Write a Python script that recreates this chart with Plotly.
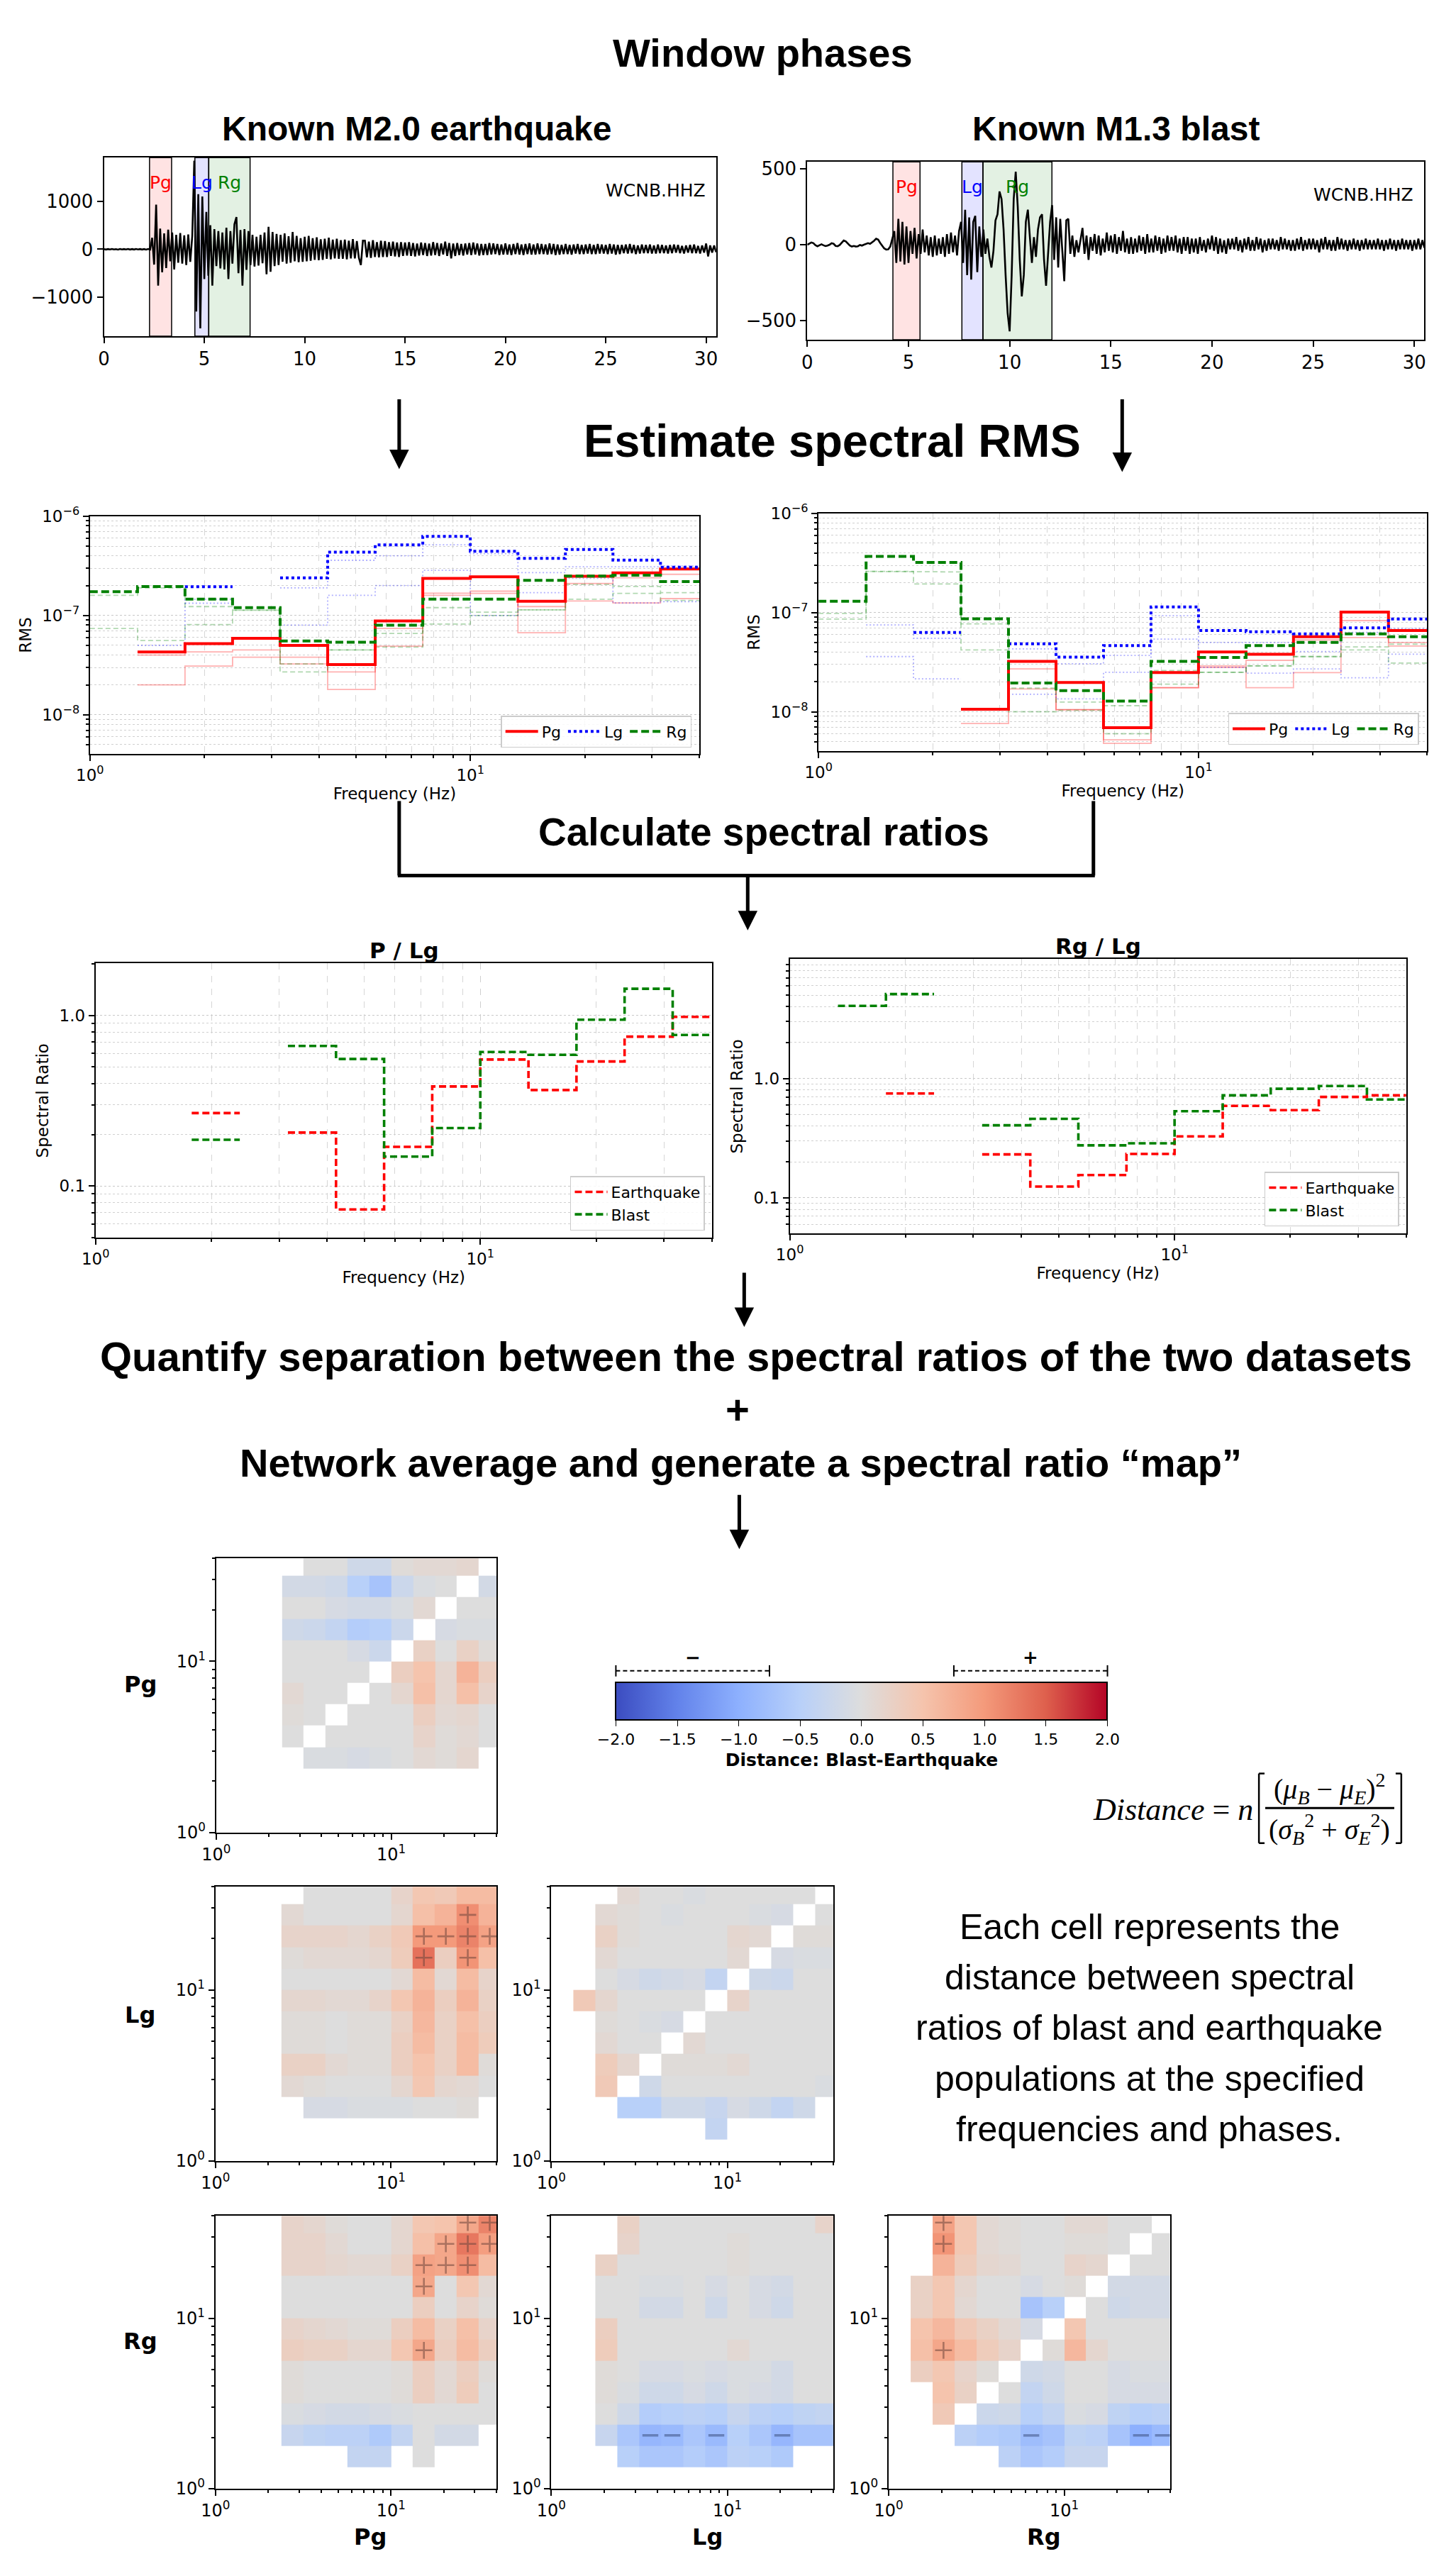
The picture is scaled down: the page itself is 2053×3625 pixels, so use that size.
import numpy as np
import plotly.graph_objects as go

W, H = 2053, 3625
N = None

# ------------------------------------------------------------------ data
sample_dt = 0.1  # s
eq_counts = [
    4, -6, 5, -3, 6, -5, 3, -7, 6, -4,
    5, -4, 7, -6, 4, -5, 6, -3, 5, -6,
    4, -7, 6, -5, 240, -320, 930, -760, 430, -480,
    330, -390, 410, -250, 350, -420, 300, -280, 340, -300,
    290, -330, 310, -260, 280, 1850, -1300, 1150, -1650, 1100,
    -620, 780, -550, 500, -760, 420, -350, 380, -400, 350,
    -420, 450, -620, 380, -300, 520, 670, -500, 400, -760,
    420, -430, 380, -330, 300, -360, 260, -340, 300, -290,
    350, -520, 470, -470, 360, -350, 320, -330, 300, -260,
    330, -300, 270, -280, 360, -250, 280, -270, 230, -260,
    260, -250, 280, -240, 230, -220, 250, -230, 210, -220,
    220, -200, 240, -210, 200, -190, 220, -200, 190, -200,
    200, -210, 180, -190, 210, -190, 170, -180, -330, 180,
    180, -170, 160, -180, 190, -160, 150, -170, 180, -160,
    170, -160, 150, -140, 160, -150, 140, -160, 150, -140,
    140, -130, 150, -140, 130, -150, 120, -130, 140, -120,
    130, -140, 120, -130, 150, -120, 130, -140, 120, -110,
    160, -140, 130, -190, 120, -140, 130, -120, 110, -130,
    120, -110, 130, -120, 140, -110, 120, -130, 110, -120,
    110, -120, 130, -110, 120, -100, 110, -120, 100, -110,
    120, -110, 100, -120, 110, -100, 130, -110, 100, -120,
    110, -100, 120, -110, 100, -110, 120, -100, 110, -100,
    100, -110, 120, -100, 110, -120, 100, -110, 90, -100,
    110, -100, 90, -110, 100, -90, 110, -100, 90, -100,
    100, -90, 110, -100, 90, -100, 110, -90, 100, -90,
    90, -100, 110, -90, 100, -110, 90, -100, 90, -80,
    100, -90, 110, -80, 90, -100, 80, -90, 100, -80,
    90, -80, 100, -90, 80, -90, 100, -80, 90, -80,
    80, -90, 90, -80, 100, -70, 90, -80, 70, -90,
    80, -70, 90, -80, 100, -80, 70, -90, 80, -70,
    120, -150, 80, -70, 80, -60,
]
blast_counts = [
    0, 8, 15, 10, -3, -10, -5, 3, -4, -9,
    -6, 0, 10, 6, -8, -10, -2, 12, 28, 22,
    8, -5, -12, -8, -12, -10, -2, -6, 0, 4,
    10, 6, 14, 26, 40, 34, 12, -8, -24, -32,
    -30, -12, 40, 90, -120, 170, -110, 150, -130, 120,
    -120, 90, -60, 110, -90, 70, -60, 100, -50, 60,
    -70, 50, -80, 60, -70, 40, -60, 50, -80, 70,
    -60, 80, -50, 60, -70, 90, 150, -120, 230, -200,
    180, -230, 150, 190, -180, 120, -80, 100, -60, 40,
    -80, -150, -40, 160, 200, 350, 300, 100, -200, -450,
    -570, -200, 300, 480, 250, -100, -340, -200, 150, 230,
    50, -120, 50, -80, 100, 180, 200, -100, -270, -50,
    150, 260, -100, 180, -150, 170, -50, -240, 160, 170,
    -60, 60, -80, 30, -50, 40, 110, -60, 60, -100,
    50, -40, 70, -60, 60, -70, 40, -50, 80, -40,
    60, -50, 70, -60, 50, -40, 90, -50, 40, -60,
    50, -60, 40, -50, 60, -40, 50, -60, 70, -50,
    40, -50, 60, -40, 50, -60, 40, -50, 60, -40,
    50, -40, 60, -50, 40, -60, 50, -40, 50, -60,
    40, -50, 40, -60, 50, -40, 30, -50, 40, -30,
    60, -40, 50, -60, 40, -50, 30, -60, 40, -30,
    40, -30, 50, -40, 30, -50, 40, -30, 50, -40,
    30, -40, 50, -30, 40, -50, 30, -40, 40, -30,
    40, -30, 30, -40, 50, -30, 40, -30, 30, -40,
    30, -40, 40, -30, 50, -40, 30, -30, 40, -30,
    40, -30, 30, -50, 40, -30, 50, -30, 30, -40,
    30, -40, 50, -30, 40, -30, 30, -40, 30, -30,
    40, -30, 30, -40, 30, -30, 40, -30, 30, -30,
    30, -30, 40, -30, 30, -40, 30, -30, 40, -30,
    30, -40, 30, -30, 40, -30, 30, -30, 30, -40,
    30, -30, 40, -30, 30, -20,
]
phase_names = ["Pg", "Lg", "Rg"]
eq_win_start = [2.27, 4.53, 5.22]
eq_win_end = [3.37, 5.22, 7.28]
bl_win_start = [4.23, 7.64, 8.68]
bl_win_end = [5.57, 8.68, 12.09]
station_name = "WCNB.HHZ"

# frequency bin edges (Hz)
freq_edges = [1.0, 1.334, 1.778, 2.371, 3.162, 4.217, 5.623, 7.499,
              10.0, 13.34, 17.78, 23.71, 31.62, 42.17]

# network RMS (earthquake)
rms_eq_pg = [N, 4.3e-8, 5.2e-8, 5.9e-8, 5.0e-8, 3.2e-8, 8.8e-8, 2.37e-7, 2.45e-7, 1.39e-7, 2.49e-7, 2.69e-7, 2.94e-7]
rms_eq_lg = [N, N, 1.95e-7, N, 2.4e-7, 4.35e-7, 5.15e-7, 6.27e-7, 4.43e-7, 3.76e-7, 4.63e-7, 3.62e-7, 3.07e-7]
rms_eq_rg = [1.74e-7, 1.96e-7, 1.46e-7, 1.2e-7, 5.53e-8, 5.38e-8, 8.0e-8, 1.46e-7, 1.46e-7, 2.26e-7, 2.5e-7, 2.55e-7, 2.2e-7]
# individual-station RMS (earthquake)
eq_pg_st1 = [N, 4.0e-8, 4.3e-8, 4.5e-8, 3.8e-8, 2.7e-8, 7.4e-8, 1.68e-7, 1.76e-7, 1.23e-7, 2.1e-7, 2.4e-7, 2.6e-7]
eq_pg_st2 = [N, 2.0e-8, 3.1e-8, 3.8e-8, 3.25e-8, 1.8e-8, 4.9e-8, 1.6e-7, 1.67e-7, 6.7e-8, 1.4e-7, 1.34e-7, 1.48e-7]
eq_lg_st1 = [N, 5.0e-8, 1.46e-7, N, 1.9e-7, 3.6e-7, 4.0e-7, 5.15e-7, 4.2e-7, 2.7e-7, 3.1e-7, 3.1e-7, 3.15e-7]
eq_lg_st2 = [N, N, 1.33e-7, N, 8.0e-8, 1.6e-7, 2.0e-7, 2.85e-7, 1.0e-7, 1.7e-7, 2.37e-7, 1.34e-7, 1.38e-7]
eq_rg_st1 = [1.6e-7, 1.9e-7, 1.23e-7, 1.13e-7, 3.25e-8, 4.5e-8, 6.6e-8, 1.2e-7, 1.08e-7, 1.14e-7, 2.06e-7, 1.96e-7, 1.7e-7]
eq_rg_st2 = [7.4e-8, 5.6e-8, 8.1e-8, 1.13e-7, 2.7e-8, 4.5e-8, 4.8e-8, 8.2e-8, 1.0e-7, 1.14e-7, 1.46e-7, 1.67e-7, 1.42e-7]
# network RMS (blast)
rms_bl_pg = [N, N, N, 1.06e-8, 3.22e-8, 1.97e-8, 6.9e-9, 2.48e-8, 4.0e-8, 3.79e-8, 5.7e-8, 1.01e-7, 6.6e-8]
rms_bl_lg = [N, N, 6.3e-8, N, 4.84e-8, 3.55e-8, 4.64e-8, 1.14e-7, 6.6e-8, 6.4e-8, 6.1e-8, 7.0e-8, 8.6e-8]
rms_bl_rg = [1.3e-7, 3.68e-7, 3.21e-7, 8.65e-8, 1.95e-8, 1.63e-8, 1.28e-8, 3.22e-8, 3.53e-8, 4.64e-8, 5.0e-8, 6.1e-8, 5.7e-8]
bl_pg_st1 = [N, N, N, 7.6e-9, 2.7e-8, 1.05e-8, 5.2e-9, 1.75e-8, 2.9e-8, 3.3e-8, 5.3e-8, 8.3e-8, 4.6e-8]
bl_pg_st2 = [N, N, N, N, 1.7e-8, 1.05e-8, 4.8e-9, 1.75e-8, 2.8e-8, 1.75e-8, 2.48e-8, 5.6e-8, 5.0e-8]
bl_lg_st1 = [N, 7.5e-8, 5.5e-8, N, 4.3e-8, 3.05e-8, 3.7e-8, 9.3e-8, 5.0e-8, 5.0e-8, 4.05e-8, 6.3e-8, 6.9e-8]
bl_lg_st2 = [N, 3.6e-8, 2.15e-8, N, 1.5e-8, 1.35e-8, 2.5e-8, 5.4e-8, 2.8e-8, 2.45e-8, 2.7e-8, 2.2e-8, 3.8e-8]
bl_rg_st1 = [9.8e-8, 2.6e-7, 2.57e-7, 7.7e-8, 1.73e-8, 1.25e-8, 1.15e-8, 2.6e-8, 2.5e-8, 2.9e-8, 3.6e-8, 4.5e-8, 4.8e-8]
bl_rg_st2 = [8.6e-8, 2.6e-7, 1.94e-7, 4.2e-8, 1.0e-8, 1.03e-8, 6.0e-9, 1.9e-8, 2.5e-8, 2.9e-8, 3.6e-8, 4.2e-8, 3.1e-8]

# spectral ratios
pg_lg_eq = [N, N, 0.268, N, 0.206, 0.073, 0.170, 0.384, 0.552, 0.366, 0.538, 0.752, 0.981]
pg_lg_bl = [N, N, 0.187, N, 0.663, 0.556, 0.149, 0.219, 0.611, 0.588, 0.945, 1.435, 0.769]
rg_lg_eq = [N, N, 0.748, N, 0.231, 0.124, 0.155, 0.233, 0.327, 0.589, 0.543, 0.700, 0.722]
rg_lg_bl = [N, 4.06, 5.1, N, 0.405, 0.459, 0.275, 0.286, 0.531, 0.722, 0.82, 0.865, 0.666]

# distance maps, rows listed from the highest frequency (top) downwards
pg_pg_top_down = [
    [N, N, N, N, 0.0, 0.0, -0.2, -0.2, 0.05, 0.1, 0.1, 0.15, N],
    [N, N, N, -0.15, -0.15, -0.2, -0.5, -0.7, -0.25, -0.05, 0.0, N, -0.15],
    [N, N, N, 0.0, 0.0, -0.1, -0.15, -0.15, -0.05, 0.1, N, 0.0, 0.0],
    [N, N, N, -0.2, -0.25, -0.35, -0.55, -0.5, -0.25, N, -0.1, -0.05, -0.05],
    [N, N, N, 0.0, 0.0, 0.0, -0.1, -0.25, N, 0.25, 0.0, 0.25, 0.05],
    [N, N, N, 0.0, 0.0, 0.0, 0.0, N, 0.3, 0.5, 0.15, 0.7, 0.3],
    [N, N, N, 0.1, 0.0, 0.0, N, 0.0, 0.15, 0.55, 0.15, 0.55, 0.2],
    [N, N, N, 0.05, 0.0, N, 0.0, 0.0, 0.0, 0.3, 0.1, 0.15, 0.0],
    [N, N, N, 0.0, N, 0.0, 0.0, 0.0, 0.0, 0.2, 0.05, 0.1, 0.0],
    [N, N, N, N, -0.05, -0.05, -0.1, -0.05, 0.0, 0.1, 0.05, 0.15, N],
    [N] * 13, [N] * 13, [N] * 13,
]
lg_pg_top_down = [
    [N, N, N, N, 0.0, 0.0, 0.0, 0.0, 0.2, 0.45, 0.4, 0.6, 0.6],
    [N, N, N, 0.1, 0.0, 0.0, 0.0, 0.0, 0.15, 0.55, 0.7, 1.1, 0.7],
    [N, N, N, 0.2, 0.2, 0.2, 0.15, 0.25, 0.4, 1.0, 1.0, 1.2, 0.9],
    [N, N, N, 0.05, 0.1, 0.1, 0.1, 0.15, 0.35, 1.35, 0.3, 1.05, 0.55],
    [N, N, N, 0.0, 0.0, 0.0, 0.0, 0.0, 0.1, 0.6, 0.1, 0.6, 0.2],
    [N, N, N, 0.15, 0.15, 0.1, 0.1, 0.2, 0.45, 0.7, 0.3, 0.7, 0.25],
    [N, N, N, 0.05, 0.05, 0.0, 0.05, 0.05, 0.25, 0.65, 0.25, 0.55, 0.3],
    [N, N, N, 0.05, 0.05, 0.0, 0.05, 0.05, 0.3, 0.6, 0.25, 0.6, 0.35],
    [N, N, N, 0.25, 0.25, 0.1, 0.05, 0.05, 0.3, 0.5, 0.25, 0.6, 0.05],
    [N, N, N, 0.1, 0.05, 0.0, 0.0, 0.0, 0.15, 0.45, 0.15, 0.1, 0.0],
    [N, N, N, N, -0.1, -0.1, -0.05, -0.05, -0.05, 0.0, 0.0, 0.05, N],
    [N] * 13, [N] * 13,
]
lg_lg_top_down = [
    [N, N, N, 0.1, 0.0, 0.0, -0.05, 0.0, 0.0, 0.0, 0.0, 0.0, N],
    [N, N, 0.1, 0.05, 0.0, -0.05, 0.0, 0.0, 0.0, -0.05, -0.1, N, 0.0],
    [N, N, 0.25, 0.05, 0.0, 0.0, 0.0, 0.0, 0.15, 0.1, N, 0.05, 0.05],
    [N, N, 0.1, 0.0, 0.0, 0.0, 0.0, 0.0, 0.1, N, -0.1, -0.05, -0.05],
    [N, N, 0.0, -0.1, -0.2, -0.15, -0.1, -0.35, N, -0.2, -0.25, 0.0, 0.0],
    [N, 0.4, 0.15, 0.0, 0.0, 0.0, 0.0, N, 0.2, 0.0, 0.0, 0.0, 0.0],
    [N, N, 0.05, 0.0, -0.05, -0.1, N, 0.0, 0.0, 0.0, 0.0, 0.0, 0.0],
    [N, N, 0.1, 0.0, 0.0, N, 0.1, 0.0, 0.0, 0.0, 0.0, 0.0, 0.0],
    [N, N, 0.35, 0.15, N, 0.05, 0.05, 0.05, 0.1, 0.0, 0.0, 0.0, 0.0],
    [N, N, 0.4, N, -0.2, 0.0, 0.0, 0.0, 0.0, 0.0, 0.0, 0.0, -0.05],
    [N, N, N, -0.5, -0.5, -0.2, -0.2, -0.3, -0.1, -0.2, -0.35, -0.2, N],
    [N, N, N, N, N, N, N, -0.35, N, N, N, N, N],
    [N] * 13,
]
rg_pg_top_down = [
    [N, N, N, 0.2, 0.15, 0.05, 0.0, 0.0, 0.15, 0.45, 0.5, 0.85, 1.2],
    [N, N, N, 0.2, 0.2, 0.1, 0.0, 0.0, 0.15, 0.55, 0.85, 1.3, 0.95],
    [N, N, N, 0.2, 0.2, 0.15, 0.1, 0.1, 0.25, 0.9, 0.85, 1.1, 0.6],
    [N, N, N, 0.0, 0.0, 0.0, 0.0, 0.0, 0.0, 0.85, 0.0, 0.45, 0.1],
    [N, N, N, 0.0, 0.0, 0.0, 0.0, 0.0, 0.0, 0.3, 0.0, 0.2, 0.05],
    [N, N, N, 0.2, 0.15, 0.1, 0.05, 0.05, 0.3, 0.6, 0.25, 0.55, 0.2],
    [N, N, N, 0.3, 0.25, 0.25, 0.15, 0.15, 0.45, 0.85, 0.3, 0.6, 0.3],
    [N, N, N, 0.05, 0.0, 0.0, 0.0, 0.0, 0.05, 0.3, 0.1, 0.3, 0.05],
    [N, N, N, 0.05, 0.0, 0.0, 0.0, 0.0, 0.05, 0.3, 0.1, 0.35, 0.0],
    [N, N, N, -0.05, -0.1, -0.15, -0.15, -0.1, -0.05, 0.0, 0.0, 0.0, 0.0],
    [N, N, N, -0.3, -0.4, -0.45, -0.45, -0.6, -0.35, 0.0, -0.15, -0.15, N],
    [N, N, N, N, N, N, -0.35, -0.35, N, 0.0, N, N, N],
    [N] * 13,
]
rg_lg_top_down = [
    [N, N, N, 0.25, 0.0, 0.0, 0.0, 0.0, 0.0, 0.0, 0.0, 0.0, 0.2],
    [N, N, N, 0.2, 0.0, 0.0, 0.0, 0.0, 0.05, 0.0, 0.0, 0.0, 0.0],
    [N, N, 0.25, 0.0, 0.0, 0.0, 0.0, 0.0, 0.05, 0.0, 0.0, 0.0, 0.0],
    [N, N, 0.0, 0.0, -0.05, -0.05, 0.0, -0.1, 0.0, -0.1, -0.15, 0.0, 0.0],
    [N, N, 0.0, 0.0, -0.15, -0.15, 0.0, -0.2, 0.0, -0.1, -0.2, 0.0, 0.0],
    [N, N, 0.3, 0.0, 0.0, 0.0, 0.0, 0.0, 0.0, 0.0, 0.0, 0.0, 0.0],
    [N, N, 0.35, 0.0, 0.0, 0.0, 0.0, 0.0, 0.1, 0.0, 0.0, 0.0, 0.0],
    [N, N, 0.05, 0.0, -0.1, -0.1, -0.05, -0.1, -0.05, -0.05, -0.15, 0.0, 0.0],
    [N, N, 0.05, -0.05, -0.2, -0.2, -0.1, -0.2, -0.05, -0.1, -0.15, 0.0, 0.0],
    [N, N, 0.0, -0.2, -0.55, -0.5, -0.45, -0.5, -0.3, -0.45, -0.5, -0.4, -0.35],
    [N, N, -0.3, -0.65, -0.9, -0.85, -0.65, -0.85, -0.5, -0.65, -0.9, -0.7, -0.7],
    [N, N, N, -0.5, -0.65, -0.65, -0.55, -0.65, -0.45, -0.5, -0.6, N, N],
    [N] * 13,
]
rg_rg_top_down = [
    [N, N, 0.9, 0.45, 0.1, 0.05, 0.0, 0.0, 0.1, 0.1, 0.0, 0.0, N],
    [N, N, 1.05, 0.45, 0.1, 0.05, 0.0, 0.0, 0.05, 0.05, 0.0, N, 0.0],
    [N, N, 0.7, 0.35, 0.15, 0.1, 0.0, 0.0, 0.2, 0.15, N, 0.0, 0.0],
    [N, 0.25, 0.45, 0.15, 0.0, 0.0, -0.1, 0.0, 0.05, N, -0.15, -0.15, -0.15],
    [N, 0.25, 0.45, 0.1, 0.0, 0.0, -0.7, -0.5, N, 0.0, -0.2, -0.15, -0.15],
    [N, 0.5, 0.65, 0.4, 0.25, 0.1, -0.1, N, 0.45, 0.0, 0.0, 0.0, 0.0],
    [N, 0.55, 0.85, 0.6, 0.35, 0.2, N, 0.05, 0.65, 0.15, 0.0, 0.0, 0.0],
    [N, 0.3, 0.45, 0.2, 0.05, N, -0.2, -0.15, 0.0, 0.0, -0.1, -0.05, -0.05],
    [N, N, 0.5, 0.25, N, 0.0, -0.35, -0.2, 0.0, 0.0, -0.1, -0.1, -0.1],
    [N, N, 0.4, N, -0.25, -0.2, -0.5, -0.35, -0.05, -0.1, -0.4, -0.5, -0.45],
    [N, N, N, -0.45, -0.55, -0.6, -0.8, -0.7, -0.4, -0.45, -0.7, -1.0, -0.85],
    [N, N, N, N, N, -0.45, -0.65, -0.55, -0.3, -0.3, N, N, N],
    [N] * 13,
]
significance_level = 0.75
colorbar_ticks = [-2.0, -1.5, -1.0, -0.5, 0.0, 0.5, 1.0, 1.5, 2.0]

# ------------------------------------------------------------------ styles
TITLE_FONT = "Liberation Sans, Arial, sans-serif"
MPL_FONT = "DejaVu Sans, Liberation Sans, sans-serif"
BODY_FONT = "Liberation Sans, Arial, sans-serif"
SERIF = "Liberation Serif, DejaVu Serif, serif"
PHASE_COLORS = {"Pg": "#ff0000", "Lg": "#0000ff", "Rg": "#008000"}
WIN_FILL = {"Pg": "rgba(255,0,0,0.11)", "Lg": "rgba(0,0,255,0.11)", "Rg": "rgba(0,128,0,0.11)"}
PHASE_DASH = {"Pg": "solid", "Lg": "4px,4px", "Rg": "11px,5px"}
FAINT_DASH = {"Pg": "solid", "Lg": "2px,3px", "Rg": "7px,4px"}
COOLWARM = [[0.0, "#3b4cc0"], [0.125, "#6282ea"], [0.25, "#8db0fe"], [0.375, "#b8d0f9"],
            [0.5, "#dddddd"], [0.625, "#f5c4ad"], [0.75, "#f49a7b"], [0.875, "#de604d"],
            [1.0, "#b40426"]]
AXT = dict(family=MPL_FONT, size=23, color="black")

fig = go.Figure()
layout = {}
annotations = []
shapes = []


def ref(n, k):
    return k if n == 1 else f"{k}{n}"


def axkey(n, k):
    return f"{k}axis" if n == 1 else f"{k}axis{n}"


# axis boxes in pixel coords (left, right, top, bottom)
boxes = {
    1: (127, 1000, 207, 461),
    2: (1130, 2010, 213, 466),
    3: (107, 976, 717, 1055),
    4: (1146, 2014, 713, 1051),
    5: (115, 994, 1353, 1743),
    6: (1105, 1984, 1347, 1737),
    7: (287, 687, 2199, 2589),
    8: (286, 687, 2666, 3056),
    9: (765, 1167, 2666, 3056),
    10: (286, 687, 3134, 3522),
    11: (765, 1167, 3134, 3522),
    12: (1246, 1647, 3134, 3522),
}

frame = dict(showline=True, mirror=True, linecolor="black", linewidth=2, ticks="outside",
             ticklen=8, tickwidth=1.5, tickcolor="black", zeroline=False, showgrid=False,
             tickfont=dict(family=MPL_FONT, size=23, color="black"))

for n, (l, r, t, b) in boxes.items():
    layout[axkey(n, "x")] = dict(domain=[l / W, r / W], anchor=ref(n, "y"), **frame)
    layout[axkey(n, "y")] = dict(domain=[1 - b / H, 1 - t / H], anchor=ref(n, "x"), **frame)

dec_vals = [1, 10]
dec_text = ["10<sup>0</sup>", "10<sup>1</sup>"]
minor_f = [2, 3, 4, 5, 6, 7, 8, 9, 20, 30, 40]

# ----- waveform panels
t_eq = [i * sample_dt for i in range(len(eq_counts))]
t_bl = [i * sample_dt for i in range(len(blast_counts))]
for n, t, y, ws, we, yr, dt in [(1, t_eq, eq_counts, eq_win_start, eq_win_end, [-1814, 1912], 1000),
                                (2, t_bl, blast_counts, bl_win_start, bl_win_end, [-625, 545], 500)]:
    fig.add_trace(go.Scatter(x=t, y=y, mode="lines", line=dict(color="black", width=2.6),
                             xaxis=ref(n, "x"), yaxis=ref(n, "y"), showlegend=False, hoverinfo="skip"))
    layout[axkey(n, "x")].update(range=[0, 30.5], dtick=5, tick0=0,
                                 tickfont=dict(family=MPL_FONT, size=26, color="black"))
    layout[axkey(n, "y")].update(range=yr, dtick=dt, tick0=0,
                                 tickfont=dict(family=MPL_FONT, size=26, color="black"))
    for name, a, c in zip(phase_names, ws, we):
        shapes.append(dict(type="rect", xref=ref(n, "x"), yref=ref(n, "y") + " domain", x0=a, x1=c, y0=0, y1=1,
                           fillcolor=WIN_FILL[name], line=dict(color="black", width=1.5), layer="below"))
        annotations.append(dict(x=(a + c) / 2, y=0.925, xref=ref(n, "x"), yref=ref(n, "y") + " domain",
                                text=name, showarrow=False, font=dict(family=MPL_FONT, size=25, color=PHASE_COLORS[name])))
    annotations.append(dict(x=0.985, y=0.88, xref=ref(n, "x") + " domain", yref=ref(n, "y") + " domain",
                            text=station_name, showarrow=False, xanchor="right",
                            font=dict(family=MPL_FONT, size=25, color="black")))


# ----- step helper
def steps(vals):
    xs, ys = [], []
    for i, v in enumerate(vals):
        if v is None:
            if xs and xs[-1] is not None:
                xs.append(None)
                ys.append(None)
            continue
        xs += [freq_edges[i], freq_edges[i + 1]]
        ys += [v, v]
    return xs, ys


def log_grid_axes(n, yr, ymajor, ytext, yminor):
    gx = dict(type="log", range=[0, 1.602], tickvals=dec_vals, ticktext=dec_text,
              showgrid=True, gridcolor="#cfcfcf", gridwidth=1.3, griddash="dash",
              minor=dict(tickvals=minor_f, ticks="outside", ticklen=4, tickcolor="black",
                         showgrid=True, gridcolor="#d6d6d6", gridwidth=1.2, griddash="dash"))
    gy = dict(type="log", range=yr, tickvals=ymajor, ticktext=ytext,
              showgrid=True, gridcolor="#c8c8c8", gridwidth=1.4, griddash="dot",
              minor=dict(tickvals=yminor, ticks="outside", ticklen=4, tickcolor="black",
                         showgrid=True, gridcolor="#d0d0d0", gridwidth=1.4, griddash="dot"))
    layout[axkey(n, "x")].update(gx)
    layout[axkey(n, "y")].update(gy)


rms_minor = [5e-9, 6e-9, 7e-9, 8e-9, 9e-9] + [k * 1e-8 for k in range(2, 10)] + [k * 1e-7 for k in range(2, 10)]
rms_major = [1e-8, 1e-7, 1e-6]
rms_text = ["10<sup>\u22128</sup>", "10<sup>\u22127</sup>", "10<sup>\u22126</sup>"]

rms_sets = [
    (3, "legend", [rms_eq_pg, rms_eq_lg, rms_eq_rg],
     [[eq_pg_st1, eq_pg_st2], [eq_lg_st1, eq_lg_st2], [eq_rg_st1, eq_rg_st2]], [-8.394, -6]),
    (4, "legend2", [rms_bl_pg, rms_bl_lg, rms_bl_rg],
     [[bl_pg_st1, bl_pg_st2], [bl_lg_st1, bl_lg_st2], [bl_rg_st1, bl_rg_st2]], [-8.397, -6]),
]
for n, leg, main, faint, yr in rms_sets:
    log_grid_axes(n, yr, rms_major, rms_text, rms_minor)
    layout[axkey(n, "x")]["title"] = dict(text="Frequency (Hz)", font=AXT, standoff=6)
    layout[axkey(n, "y")]["title"] = dict(text="RMS", font=AXT, standoff=8)
    for name, sts in zip(phase_names, faint):
        for st in sts:
            xs, ys = steps(st)
            fig.add_trace(go.Scatter(x=xs, y=ys, mode="lines", opacity=0.3,
                                     line=dict(color=PHASE_COLORS[name], width=1.8, dash=FAINT_DASH[name]),
                                     xaxis=ref(n, "x"), yaxis=ref(n, "y"), showlegend=False, hoverinfo="skip"))
    for name, vals in zip(phase_names, main):
        xs, ys = steps(vals)
        fig.add_trace(go.Scatter(x=xs, y=ys, mode="lines", name=name, legend=leg,
                                 line=dict(color=PHASE_COLORS[name], width=4, dash=PHASE_DASH[name]),
                                 xaxis=ref(n, "x"), yaxis=ref(n, "y"), hoverinfo="skip"))

# ----- spectral ratio panels
sr_sets = [
    (5, "legend3", pg_lg_eq, pg_lg_bl, [-1.302, 0.305],
     [0.05, 0.06, 0.07, 0.08, 0.09, 0.2, 0.3, 0.4, 0.5, 0.6, 0.7, 0.8, 0.9, 2.0]),
    (6, "legend4", rg_lg_eq, rg_lg_bl, [-1.3, 1.0],
     [0.06, 0.07, 0.08, 0.09, 0.2, 0.3, 0.4, 0.5, 0.6, 0.7, 0.8, 0.9, 2, 3, 4, 5, 6, 7, 8, 9]),
]
for n, leg, eqv, blv, yr, ymin in sr_sets:
    log_grid_axes(n, yr, [0.1, 1.0], ["0.1", "1.0"], ymin)
    layout[axkey(n, "x")]["title"] = dict(text="Frequency (Hz)", font=AXT, standoff=6)
    layout[axkey(n, "y")]["title"] = dict(text="Spectral Ratio", font=AXT, standoff=8)
    for nm, vals, col in [("Earthquake", eqv, "#ff0000"), ("Blast", blv, "#008000")]:
        xs, ys = steps(vals)
        fig.add_trace(go.Scatter(x=xs, y=ys, mode="lines", name=nm, legend=leg,
                                 line=dict(color=col, width=3.6, dash="10px,5px"),
                                 xaxis=ref(n, "x"), yaxis=ref(n, "y"), hoverinfo="skip"))

# ----- distance maps
centers = [float(np.sqrt(freq_edges[i] * freq_edges[i + 1])) for i in range(13)]
maps = [(7, pg_pg_top_down), (8, lg_pg_top_down), (9, lg_lg_top_down),
        (10, rg_pg_top_down), (11, rg_lg_top_down), (12, rg_rg_top_down)]
for n, rows in maps:
    z = list(reversed(rows))
    fig.add_trace(go.Heatmap(x=freq_edges, y=freq_edges, z=z, coloraxis="coloraxis",
                             xaxis=ref(n, "x"), yaxis=ref(n, "y"), hoverinfo="skip"))
    for k in ("x", "y"):
        layout[axkey(n, k)].update(type="log", range=[0, 1.602], tickvals=dec_vals, ticktext=dec_text,
                                   tickfont=dict(family=MPL_FONT, size=24, color="black"),
                                   minor=dict(tickvals=minor_f, ticks="outside", ticklen=4, tickcolor="black"))
    px_, py_, mx_, my_ = [], [], [], []
    for j, row in enumerate(z):
        for i, v in enumerate(row):
            if v is None:
                continue
            if v > significance_level:
                px_.append(centers[i]); py_.append(centers[j])
            elif v < -significance_level:
                mx_.append(centers[i]); my_.append(centers[j])
    if px_:
        fig.add_trace(go.Scatter(x=px_, y=py_, mode="markers", xaxis=ref(n, "x"), yaxis=ref(n, "y"),
                                 marker=dict(symbol="cross-thin", size=17,
                                             line=dict(width=2.6, color="rgba(110,70,60,0.55)")),
                                 showlegend=False, hoverinfo="skip"))
    if mx_:
        fig.add_trace(go.Scatter(x=mx_, y=my_, mode="markers", xaxis=ref(n, "x"), yaxis=ref(n, "y"),
                                 marker=dict(symbol="line-ew", size=16,
                                             line=dict(width=3.5, color="rgba(70,90,140,0.6)")),
                                 showlegend=False, hoverinfo="skip"))

# colorbar geometry (pixels)
cb_l, cb_r, cb_t, cb_b = 857, 1558, 2375, 2428
layout["coloraxis"] = dict(
    colorscale=COOLWARM, cmin=-2, cmax=2,
    colorbar=dict(orientation="h", x=(cb_l + cb_r) / 2 / W, xanchor="center", y=1 - cb_t / H, yanchor="top",
                  len=(cb_r - cb_l) / W, lenmode="fraction", thickness=cb_b - cb_t, thicknessmode="pixels",
                  outlinecolor="black", outlinewidth=2, ticks="outside", ticklen=8, tickcolor="black",
                  tickvals=colorbar_ticks, tickformat=".1f", xpad=0, ypad=0,
                  tickfont=dict(family=MPL_FONT, size=22, color="black"),
                  title=dict(text="<b>Distance: Blast-Earthquake</b>", side="bottom",
                             font=dict(family=MPL_FONT, size=25, color="black"))))


def cbx(v):
    return cb_l + (v + 2) / 4 * (cb_r - cb_l)


def pline(x0, y0, x1, y1, width=5, color="black", dash=None):
    ln = dict(color=color, width=width)
    if dash:
        ln["dash"] = dash
    shapes.append(dict(type="line", xref="paper", yref="paper", x0=x0 / W, x1=x1 / W,
                       y0=1 - y0 / H, y1=1 - y1 / H, line=ln))


def txt(x, y, s, size, family, color="black", xanchor="center", yanchor="middle"):
    annotations.append(dict(x=x / W, y=1 - y / H, xref="paper", yref="paper", text=s, showarrow=False,
                            font=dict(size=size, family=family, color=color), xanchor=xanchor, yanchor=yanchor))


def arrow(x, y_tail, y_head):
    annotations.append(dict(x=x / W, y=1 - y_head / H, xref="paper", yref="paper", text="",
                            ax=0, ay=-(y_head - y_tail), axref="pixel", ayref="pixel", showarrow=True,
                            arrowhead=2, arrowsize=1.1, arrowwidth=5, arrowcolor="black"))


# significance brackets over colorbar
for lo, hi, sym in [(-2.0, -0.75, "\u2212"), (0.75, 2.0, "+")]:
    pline(cbx(lo), 2359, cbx(hi), 2359, width=2, dash="6px,4px")
    for v in (lo, hi):
        pline(cbx(v), 2351, cbx(v), 2367, width=2)
    txt((cbx(lo) + cbx(hi)) / 2, 2340, "<b>" + sym + "</b>", 26, MPL_FONT)

# ----- headings
txt(1066, 58, "<b>Window phases</b>", 56, TITLE_FONT)
txt(573, 166, "<b>Known M2.0 earthquake</b>", 48, TITLE_FONT)
txt(1570, 166, "<b>Known M1.3 blast</b>", 48, TITLE_FONT)
txt(1166, 610, "<b>Estimate spectral RMS</b>", 65, TITLE_FONT)
txt(1068, 1166, "<b>Calculate spectral ratios</b>", 55, TITLE_FONT)
txt(1057, 1912, "<b>Quantify separation between the spectral ratios of the two datasets</b>", 58, TITLE_FONT)
txt(1031, 1988, "<b>+</b>", 58, TITLE_FONT)
txt(1035, 2063, "<b>Network average and generate a spectral ratio \u201cmap\u201d</b>", 56, TITLE_FONT)

txt(555, 1334, "<b>P / Lg</b>", 31, MPL_FONT)
txt(1545, 1328, "<b>Rg / Lg</b>", 31, MPL_FONT)

# arrows / bracket
arrow(548, 550, 650)
arrow(1579, 550, 654)
pline(548, 1122, 548, 1228)
pline(1538, 1122, 1538, 1228)
pline(546, 1228, 1540, 1228)
arrow(1045, 1226, 1306)
arrow(1040, 1792, 1870)
arrow(1033, 2108, 2186)

# map labels
for lbl, y in [("Pg", 2378), ("Lg", 2848), ("Rg", 3312)]:
    txt(179, y, "<b>" + lbl + "</b>", 32, MPL_FONT)
for lbl, x in [("Pg", 507), ("Lg", 988), ("Rg", 1467)]:
    txt(x, 3591, "<b>" + lbl + "</b>", 32, MPL_FONT)

# description text
desc = ["Each cell represents the", "distance between spectral", "ratios of blast and earthquake",
        "populations at the specified", "frequencies and phases."]
for k, line in enumerate(desc):
    txt(1618, 2723 + k * 72, line, 50, BODY_FONT)

# formula
txt(1768, 2556, "<i>Distance</i> = <i>n</i>", 44, SERIF, xanchor="right")
txt(1875, 2527, "(<i>\u03bc</i><sub><i>B</i></sub> \u2212 <i>\u03bc</i><sub><i>E</i></sub>)<sup>2</sup>", 40, SERIF)
txt(1875, 2584, "(<i>\u03c3</i><sub><i>B</i></sub><sup>2</sup> + <i>\u03c3</i><sub><i>E</i></sub><sup>2</sup>)", 40, SERIF)
pline(1783, 2554, 1967, 2554, width=3)
for xb, sgn in [(1774, 1), (1977, -1)]:
    pline(xb, 2505, xb, 2604, width=2.5)
    pline(xb, 2505, xb + sgn * 8, 2505, width=2.5)
    pline(xb, 2604, xb + sgn * 8, 2604, width=2.5)

# legends
leg_common = dict(bgcolor="rgba(255,255,255,0.85)", bordercolor="#cccccc", borderwidth=1.5,
                  font=dict(family=MPL_FONT, size=22, color="black"), itemwidth=46)
layout["legend"] = dict(x=965 / W, y=1 - 1046 / H, xanchor="right", yanchor="bottom", orientation="h", **leg_common)
layout["legend2"] = dict(x=2002 / W, y=1 - 1042 / H, xanchor="right", yanchor="bottom", orientation="h", **leg_common)
layout["legend3"] = dict(x=984 / W, y=1 - 1733 / H, xanchor="right", yanchor="bottom", orientation="v", **leg_common)
layout["legend4"] = dict(x=1974 / W, y=1 - 1727 / H, xanchor="right", yanchor="bottom", orientation="v", **leg_common)

fig.update_layout(width=W, height=H, margin=dict(l=0, r=0, t=0, b=0), paper_bgcolor="white",
                  plot_bgcolor="white", annotations=annotations, shapes=shapes,
                  font=dict(family=MPL_FONT, color="black"), **layout)
fig.write_html("out.html")
